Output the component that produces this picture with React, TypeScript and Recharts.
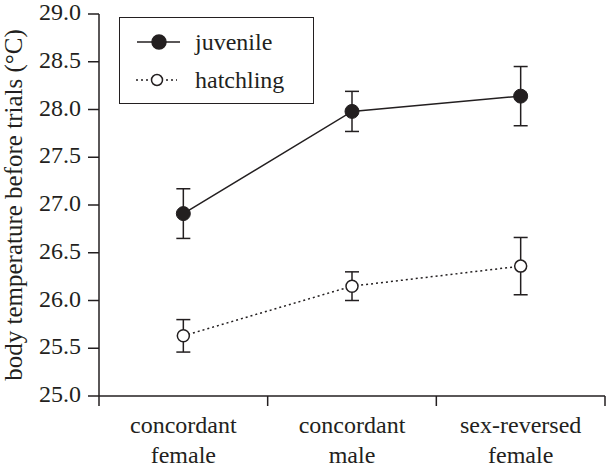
import React from 'react'
import {
  ComposedChart,
  Line,
  ErrorBar,
  XAxis,
  YAxis,
  Legend,
} from 'recharts'

const categories = ['concordant\nfemale', 'concordant\nmale', 'sex-reversed\nfemale']
const seriesOrder = ['juvenile', 'hatchling']
const juvenileMean = [26.91, 27.98, 28.14]
const juvenileErr = [0.26, 0.21, 0.31]
const hatchlingMean = [25.63, 26.15, 26.36]
const hatchlingErr = [0.17, 0.15, 0.3]
const yTicks = [25, 25.5, 26, 26.5, 27, 27.5, 28, 28.5, 29]
const xTicks = [0, 0.5, 1, 1.5, 2, 2.5, 3]

const INK = '#231f20'
const FONT = 'Liberation Serif, serif'

const data = categories.map((category, i) => ({
  pos: i + 0.5,
  category,
  juvenile: juvenileMean[i],
  juvenileErr: juvenileErr[i],
  hatchling: hatchlingMean[i],
  hatchlingErr: hatchlingErr[i],
}))

// integer ticks are the group boundaries (tick marks), half ticks carry the labels
const CategoryTick = (props: any) => {
  const { x, y, payload } = props
  const v = payload.value
  if (Number.isInteger(v)) {
    return <line x1={x} x2={x} y1={y} y2={y + 10} stroke={INK} strokeWidth={1.5} />
  }
  const lines = categories[Math.floor(v)].split('\n')
  return (
    <text x={x} y={y} textAnchor="middle" fill={INK} style={{ fontFamily: FONT }} fontSize={24}>
      {lines.map((l, i) => (
        <tspan key={i} x={x} y={y + 37 + i * 30}>
          {l}
        </tspan>
      ))}
    </text>
  )
}

const ValueTick = (props: any) => {
  const { x, y, payload } = props
  return (
    <text x={x} y={y} dy={6} textAnchor="end" fill={INK} style={{ fontFamily: FONT }} fontSize={24}>
      {Number(payload.value).toFixed(1)}
    </text>
  )
}

const LegendBox = (props: any) => {
  const items = [...(props.payload || [])].sort(
    (a: any, b: any) => seriesOrder.indexOf(a.dataKey) - seriesOrder.indexOf(b.dataKey)
  )
  return (
    <div
      style={{
        position: 'relative',
        width: 195,
        height: 87,
        boxSizing: 'border-box',
        border: `1.5px solid ${INK}`,
        background: '#fff',
        fontFamily: FONT,
        fontSize: 24,
        color: INK,
      }}
    >
      {items.map((p: any, i: number) => {
        const hollow = p.dataKey === 'hatchling'
        return (
          <div
            key={i}
            style={{
              position: 'absolute',
              left: 0,
              top: 5 + i * 38,
              height: 38,
              display: 'flex',
              alignItems: 'center',
              lineHeight: '38px',
            }}
          >
            <svg width={75} height={20} style={{ flex: 'none' }}>
              <line
                x1={hollow ? 16 : 17}
                x2={hollow ? 57 : 60}
                y1={10}
                y2={10}
                stroke={INK}
                strokeWidth={1.5}
                strokeDasharray={hollow ? '2 3' : undefined}
              />
              <circle
                cx={hollow ? 37 : 39}
                cy={10}
                r={hollow ? 5.5 : 7}
                fill={hollow ? '#fff' : INK}
                stroke={INK}
                strokeWidth={1.5}
              />
            </svg>
            <span style={{ fontFamily: FONT }}>{p.value}</span>
          </div>
        )
      })}
    </div>
  )
}

const App: React.FC = () => {
  return (
    <div style={{ position: 'absolute', left: 0, top: 0, fontFamily: FONT }}>
      <ComposedChart
        width={608}
        height={469}
        data={data}
        margin={{ top: 14, right: 3, bottom: 0, left: 0 }}
      >
        <XAxis
          dataKey="pos"
          type="number"
          domain={[0, 3]}
          ticks={xTicks}
          interval={0}
          height={73}
          tickLine={false}
          tickSize={0}
          tickMargin={0}
          tick={<CategoryTick />}
          axisLine={{ stroke: INK, strokeWidth: 1.5 }}
        />
        <YAxis
          type="number"
          domain={[25, 29]}
          ticks={yTicks}
          interval={0}
          width={99}
          tickSize={11}
          tickMargin={7}
          tick={<ValueTick />}
          tickLine={{ stroke: INK, strokeWidth: 1.5 }}
          axisLine={{ stroke: INK, strokeWidth: 1.5 }}
          label={{
            value: 'body temperature before trials (°C)',
            angle: -90,
            position: 'insideLeft',
            offset: 13,
            style: { textAnchor: 'middle', fill: INK, fontSize: 25, fontFamily: FONT },
          }}
        />
        <Legend
          content={<LegendBox />}
          layout="vertical"
          align="center"
          verticalAlign="middle"
          wrapperStyle={{ left: 119, top: 17, width: 195 }}
        />
        <Line
          name="juvenile"
          dataKey="juvenile"
          type="linear"
          stroke={INK}
          strokeWidth={1.5}
          dot={{ r: 7, fill: INK, stroke: INK, strokeWidth: 1 }}
          activeDot={false}
          isAnimationActive={false}
        >
          <ErrorBar dataKey="juvenileErr" width={7} stroke={INK} strokeWidth={1.5} direction="y" />
        </Line>
        <Line
          name="hatchling"
          dataKey="hatchling"
          type="linear"
          stroke={INK}
          strokeWidth={1.5}
          strokeDasharray="2 3"
          dot={{ r: 6, fill: '#fff', stroke: INK, strokeWidth: 1.5, strokeDasharray: '' }}
          activeDot={false}
          isAnimationActive={false}
        >
          <ErrorBar dataKey="hatchlingErr" width={7} stroke={INK} strokeWidth={1.5} direction="y" />
        </Line>
      </ComposedChart>
    </div>
  )
}

export default App
